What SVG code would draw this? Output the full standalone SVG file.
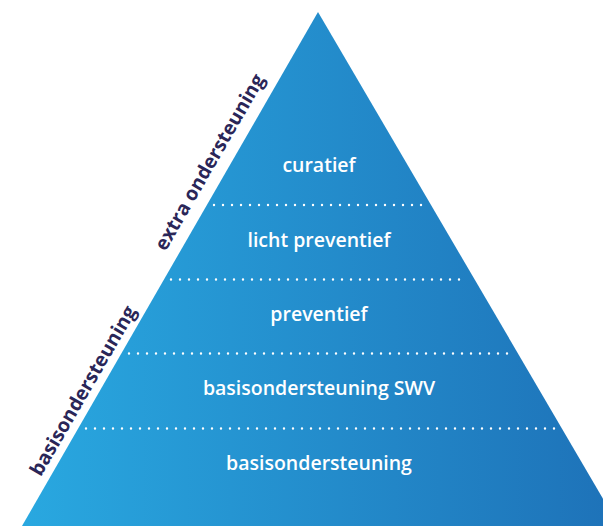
<svg xmlns="http://www.w3.org/2000/svg" width="603" height="526" viewBox="0 0 603 526">
  <defs>
    <linearGradient id="grad" gradientUnits="userSpaceOnUse" x1="22" y1="400" x2="603" y2="400">
      <stop offset="0" stop-color="#29a8e0"/>
      <stop offset="1" stop-color="#1e73b9"/>
    </linearGradient>
    <style>
      .lvl { font-family: "Open Sans", "Liberation Sans", sans-serif; font-weight: 600; font-size: 19.5px; fill: #ffffff; text-anchor: middle; }
      .side { font-family: "Open Sans", "Liberation Sans", sans-serif; font-weight: 700; font-size: 19.5px; fill: #2a2658; text-anchor: middle; }
      .dots { stroke: #ffffff; stroke-width: 2.4; stroke-linecap: round; stroke-dasharray: 0 9; fill: none; }
    </style>
  </defs>
  <rect width="603" height="526" fill="#ffffff"/>
  <g id="pyramid">
    <polygon points="318,12 22,526 619,526" fill="url(#grad)"/>
  </g>
  <g id="connectors">
    <line class="dots" x1="214" y1="205" x2="425" y2="205"/>
    <line class="dots" x1="171" y1="279.5" x2="468" y2="279.5"/>
    <line class="dots" x1="129" y1="353.5" x2="511" y2="353.5"/>
    <line class="dots" x1="86" y1="428.5" x2="555" y2="428.5"/>
  </g>
  <g id="curatief"><text class="lvl" x="319" y="172">curatief</text></g>
  <g id="licht-preventief"><text class="lvl" x="319" y="247">licht preventief</text></g>
  <g id="preventief"><text class="lvl" x="319" y="321">preventief</text></g>
  <g id="basisondersteuning-swv"><text class="lvl" x="319" y="395">basisondersteuning SWV</text></g>
  <g id="basisondersteuning"><text class="lvl" x="319" y="470">basisondersteuning</text></g>
  <g id="label-extra"><text class="side" transform="translate(215.3,165.5) rotate(-60)">extra ondersteuning</text></g>
  <g id="label-basis"><text class="side" transform="translate(88.8,394) rotate(-60)">basisondersteuning</text></g>
</svg>
